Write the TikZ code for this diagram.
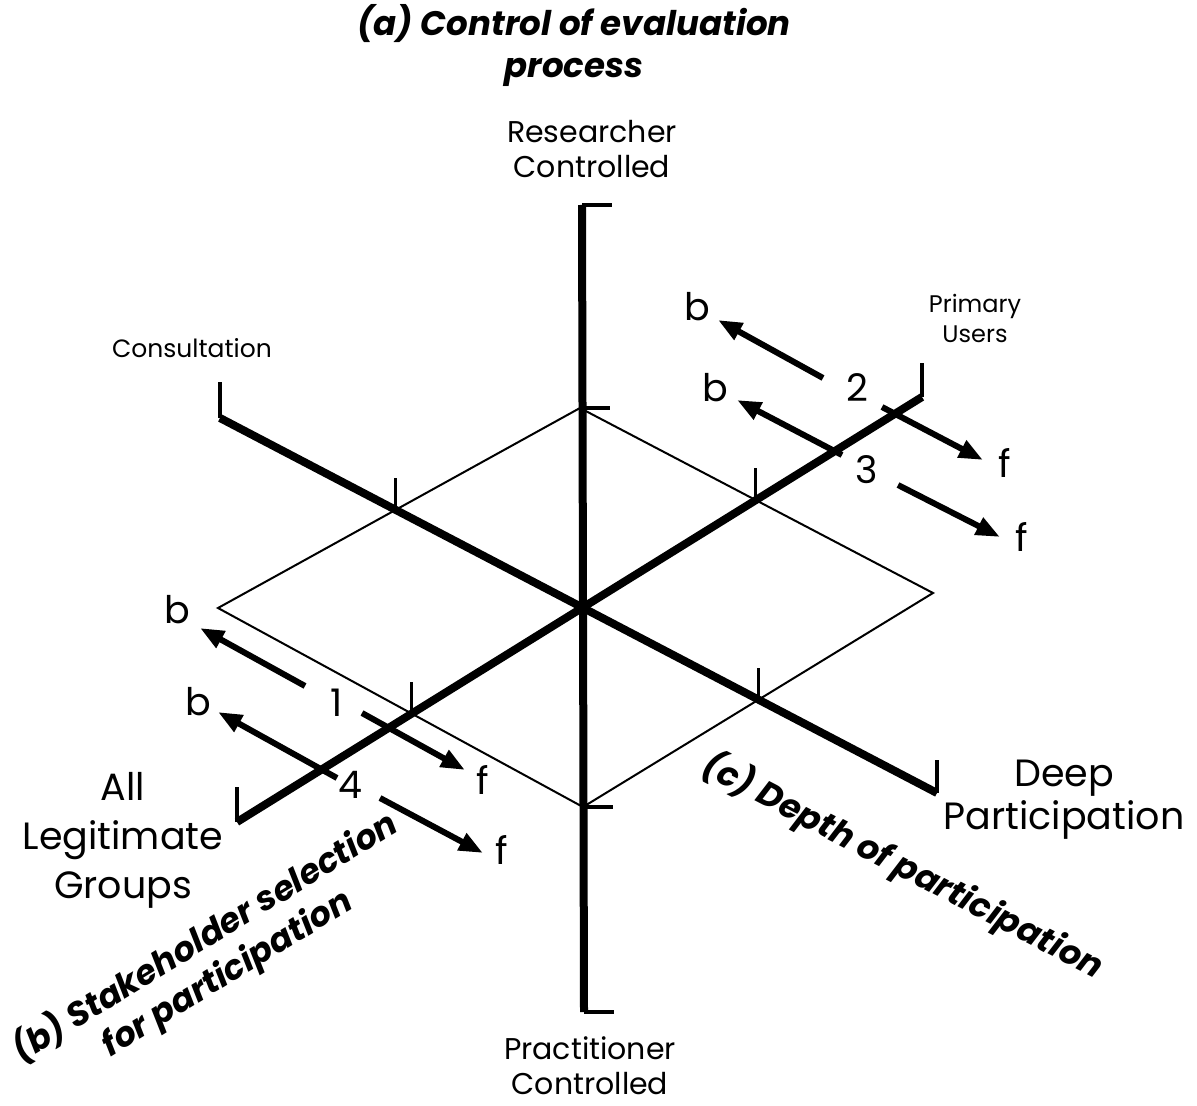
\documentclass[tikz,border=0pt]{standalone}
\usepackage{fontspec}
\setmainfont{Poppins}
\usetikzlibrary{arrows.meta}

\tikzset{
  axis/.style={line width=4pt},
  rim/.style={line width=1pt},
  notch/.style={line width=1.6pt},
  flow/.style={line width=3pt, -{Triangle[length=12pt,width=9pt]}},
  pole/.style={align=center, inner sep=0pt},
  axtitle/.style={align=center, inner sep=0pt, font=\fontsize{17}{21}\selectfont\bfseries\itshape},
  tag/.style={inner sep=0pt, font=\fontsize{19}{22}\selectfont},
}

\begin{document}
\begin{tikzpicture}[x=0.5pt,y=-0.5pt]
  \useasboundingbox (0,0) rectangle (1197,1106);
  % the three axes
  \coordinate (top) at (582,205);
  \coordinate (bot) at (584,1012);
  \coordinate (ul) at (220,418);
  \coordinate (lr) at (937,793);
  \coordinate (ll) at (237,822);
  \coordinate (ur) at (922,397);
  \draw[axis] (top) -- (bot);
  \draw[axis] (ul) -- (lr);
  \draw[axis] (ll) -- (ur);
  \draw[notch] (top) -- ++(30,0);
  \draw[notch] (bot) -- ++(30,0);
  \draw[notch] (ul) -- ++(0,-36);
  \draw[notch] (lr) -- ++(0,-33);
  \draw[notch] (ll) -- ++(0,-35);
  \draw[notch] (ur) -- ++(0,-34);
  % inner diamond
  \coordinate (dt) at (580,408);
  \coordinate (dr) at (933,593);
  \coordinate (db) at (583,807);
  \coordinate (dl) at (218,608);
  \draw[rim] (dt) -- (dr) -- (db) -- (dl) -- cycle;
  \draw[notch] (dt) -- ++(30,0);
  \draw[notch] (db) -- ++(30,0);
  \coordinate (xul) at (intersection of ul--lr and dt--dl);
  \coordinate (xur) at (intersection of ll--ur and dt--dr);
  \coordinate (xll) at (intersection of ll--ur and db--dl);
  \coordinate (xlr) at (intersection of ul--lr and db--dr);
  \foreach \c in {xul,xur,xll,xlr}
    \draw[notch] (\c) -- ++(0,-32);
  % axis titles and poles
  \node[axtitle] (ctrl) at (574,46) {(a) Control of evaluation\\process};
  \node[axtitle, rotate=31.5, font=\fontsize{17}{21}\selectfont\bfseries\itshape] (stake) at (216,955) {(b) Stakeholder selection\\for participation};
  \node[axtitle, rotate=-27.5] (depth) at (903,866) {(c) Depth of participation};
  \node[pole, font=\fontsize{15}{17.5}\selectfont] (res) at (592,149) {Researcher\\Controlled};
  \node[pole, font=\fontsize{15}{17.5}\selectfont] (prac) at (590,1066) {Practitioner\\Controlled};
  \node[pole, font=\fontsize{12.5}{14}\selectfont] (cons) at (192,348) {Consultation};
  \node[pole, font=\fontsize{12}{15}\selectfont] (prim) at (975,318) {Primary\\Users};
  \node[pole, font=\fontsize{19}{21.5}\selectfont] (deep) at (1064,800) {Deep\\Participation};
  \node[pole, font=\fontsize{19}{24.5}\selectfont] (all) at (123,840) {All\\Legitimate\\Groups};
  % case numbers with backward / forward moves
  \node[tag] (n1) at (337,703) {1};
  \node[tag] (n2) at (857,388) {2};
  \node[tag] (n3) at (867,470) {3};
  \node[tag] (n4) at (350,785) {4};
  \node[tag] (b1) at (177,610) {b};
  \node[tag] (b2) at (697,307) {b};
  \node[tag] (b3) at (715,388) {b};
  \node[tag] (b4) at (198,702) {b};
  \node[tag] (f1) at (483,780) {f};
  \node[tag] (f2) at (1005,463) {f};
  \node[tag] (f3) at (1022,537) {f};
  \node[tag] (f4) at (502,850) {f};
  \foreach \id/\tx/\ty/\hx/\hy in {
      b1/305/686/200/628, f1/362/713/465/770,
      b2/823/378/718/320, f2/882/407/983/460,
      b3/842/455/737/400, f3/898/485/1000/537,
      b4/337/778/218/712, f4/380/798/483/853} {
    \coordinate (\id-tail) at (\tx,\ty);
    \coordinate (\id-head) at (\hx,\hy);
    \draw[flow] (\id-tail) -- (\id-head);
  }
\end{tikzpicture}
\end{document}
